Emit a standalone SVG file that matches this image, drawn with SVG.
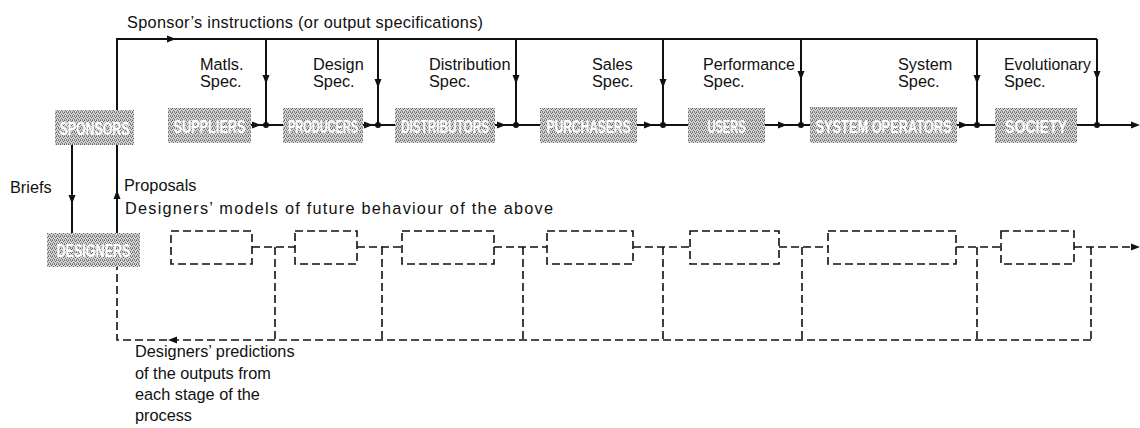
<svg xmlns="http://www.w3.org/2000/svg" xmlns:xlink="http://www.w3.org/1999/xlink" width="1140" height="428" viewBox="0 0 1140 428">
<style>
  .lbl { font-family: "Liberation Sans", Arial, sans-serif; font-size: 16.3px; fill: #111; }
  .box { fill: url(#stip); }
  .bt { font-family: "Liberation Sans", Arial, sans-serif; font-size: 19px; font-weight: bold; fill: #fff; text-anchor: middle; }
  .ln { fill: none; stroke: #111; stroke-width: 2; }
  .dl { fill: none; stroke: #111; stroke-width: 1.6; stroke-dasharray: 8 4; }
  .db { fill: none; stroke: #111; stroke-width: 1.6; stroke-dasharray: 8 4; }
  .dot { fill: #111; }
</style>
<defs>
  <pattern id="stip" width="4" height="4" patternUnits="userSpaceOnUse">
    <rect width="4" height="4" fill="#d4d4d4"/>
    <rect x="0" y="0" width="1" height="1" fill="#5e5e5e"/>
    <rect x="2" y="0" width="1" height="1" fill="#8a8a8a"/>
    <rect x="3" y="1" width="1" height="1" fill="#666"/>
    <rect x="1" y="2" width="1" height="1" fill="#6e6e6e"/>
    <rect x="2" y="3" width="1" height="1" fill="#7a7a7a"/>
    <rect x="0" y="3" width="1" height="1" fill="#9a9a9a"/>
  </pattern>
  <path id="ah" d="M0,0 L-9,-3.5 L-9,3.5 Z" fill="#111"/>
</defs>

<!-- connectors -->
<g id="connectors">
  <!-- sponsor instructions bus -->
  <path class="ln" d="M117,112 V39 H1097"/>
  <path class="ln" d="M266,39 V125"/>
  <path class="ln" d="M378,39 V125"/>
  <path class="ln" d="M516,39 V125"/>
  <path class="ln" d="M663,39 V125"/>
  <path class="ln" d="M801,39 V125"/>
  <path class="ln" d="M977,39 V125"/>
  <path class="ln" d="M1097,39 V125"/>
  <use xlink:href="#ah" transform="translate(176,39)"/>
  <use xlink:href="#ah" transform="translate(266,84) rotate(90)"/>
  <use xlink:href="#ah" transform="translate(378,88) rotate(90)"/>
  <use xlink:href="#ah" transform="translate(516,84) rotate(90)"/>
  <use xlink:href="#ah" transform="translate(663,88) rotate(90)"/>
  <use xlink:href="#ah" transform="translate(801,80) rotate(90)"/>
  <use xlink:href="#ah" transform="translate(977,84) rotate(90)"/>
  <use xlink:href="#ah" transform="translate(1097,80) rotate(90)"/>

  <!-- main flow -->
  <path class="ln" d="M251,125 H283"/>
  <path class="ln" d="M363,125 H395"/>
  <path class="ln" d="M495,125 H540"/>
  <path class="ln" d="M637,125 H688"/>
  <path class="ln" d="M765,125 H810"/>
  <path class="ln" d="M957,125 H995"/>
  <path class="ln" d="M1077,125 H1132"/>
  <use xlink:href="#ah" transform="translate(261,125)"/>
  <use xlink:href="#ah" transform="translate(373,125)"/>
  <use xlink:href="#ah" transform="translate(506,125)"/>
  <use xlink:href="#ah" transform="translate(653,125)"/>
  <use xlink:href="#ah" transform="translate(787,125)"/>
  <use xlink:href="#ah" transform="translate(968,125)"/>
  <use xlink:href="#ah" transform="translate(1140,125)"/>
  <circle class="dot" cx="266" cy="125" r="3"/>
  <circle class="dot" cx="378" cy="125" r="3"/>
  <circle class="dot" cx="516" cy="125" r="3"/>
  <circle class="dot" cx="663" cy="125" r="3"/>
  <circle class="dot" cx="801" cy="125" r="3"/>
  <circle class="dot" cx="977" cy="125" r="3"/>
  <circle class="dot" cx="1097" cy="125" r="3"/>

  <!-- briefs / proposals -->
  <path class="ln" d="M72,145 V233"/>
  <path class="ln" d="M117,145 V233"/>
  <use xlink:href="#ah" transform="translate(72,204) rotate(90)"/>
  <use xlink:href="#ah" transform="translate(117,190) rotate(-90)"/>

  <!-- models chain -->
  <path class="dl" d="M252,247 H295"/>
  <path class="dl" d="M357,247 H402"/>
  <path class="dl" d="M494,247 H547"/>
  <path class="dl" d="M633,247 H690"/>
  <path class="dl" d="M779,247 H828"/>
  <path class="dl" d="M956,247 H1001"/>
  <path class="dl" d="M1074,247 H1132"/>
  <use xlink:href="#ah" transform="translate(1140,247)"/>

  <!-- predictions feedback -->
  <path class="dl" d="M275,247 V340"/>
  <path class="dl" d="M382,247 V340"/>
  <path class="dl" d="M523,247 V340"/>
  <path class="dl" d="M663,247 V340"/>
  <path class="dl" d="M802,247 V340"/>
  <path class="dl" d="M977,247 V340"/>
  <path class="dl" d="M1091,247 V340"/>
  <path class="dl" d="M1091,340 H117 V267"/>
  <use xlink:href="#ah" transform="translate(168,340) rotate(180)"/>
</g>

<!-- nodes -->
<g id="sponsors"><rect class="box" x="55" y="110" width="79" height="35"/><text class="bt" x="94.5" y="135" textLength="70" lengthAdjust="spacingAndGlyphs">SPONSORS</text></g>
<g id="suppliers"><rect class="box" x="168" y="108" width="83" height="35"/><text class="bt" x="209.5" y="133" textLength="72" lengthAdjust="spacingAndGlyphs">SUPPLIERS</text></g>
<g id="producers"><rect class="box" x="283" y="108" width="80" height="35"/><text class="bt" x="323" y="133" textLength="70" lengthAdjust="spacingAndGlyphs">PRODUCERS</text></g>
<g id="distributors"><rect class="box" x="395" y="108" width="100" height="35"/><text class="bt" x="445" y="133" textLength="88" lengthAdjust="spacingAndGlyphs">DISTRIBUTORS</text></g>
<g id="purchasers"><rect class="box" x="540" y="108" width="97" height="35"/><text class="bt" x="588.5" y="133" textLength="84" lengthAdjust="spacingAndGlyphs">PURCHASERS</text></g>
<g id="users"><rect class="box" x="688" y="108" width="77" height="35"/><text class="bt" x="726.5" y="133" textLength="38" lengthAdjust="spacingAndGlyphs">USERS</text></g>
<g id="system-operators"><rect class="box" x="810" y="107" width="147" height="36"/><text class="bt" x="883.5" y="133" textLength="136" lengthAdjust="spacingAndGlyphs">SYSTEM OPERATORS</text></g>
<g id="society"><rect class="box" x="995" y="108" width="82" height="35"/><text class="bt" x="1036" y="133" textLength="62" lengthAdjust="spacingAndGlyphs">SOCIETY</text></g>
<g id="designers"><rect class="box" x="47" y="233" width="93" height="34"/><text class="bt" x="93.5" y="257" textLength="74" lengthAdjust="spacingAndGlyphs">DESIGNERS</text></g>

<!-- model boxes -->
<g id="model-1"><rect class="db" x="171" y="231" width="81" height="33"/></g>
<g id="model-2"><rect class="db" x="295" y="231" width="62" height="33"/></g>
<g id="model-3"><rect class="db" x="402" y="231" width="92" height="33"/></g>
<g id="model-4"><rect class="db" x="547" y="231" width="86" height="33"/></g>
<g id="model-5"><rect class="db" x="690" y="231" width="89" height="33"/></g>
<g id="model-6"><rect class="db" x="828" y="231" width="128" height="33"/></g>
<g id="model-7"><rect class="db" x="1001" y="231" width="73" height="33"/></g>

<!-- labels -->
<g id="labels">
  <text class="lbl" x="127" y="28" textLength="356" lengthAdjust="spacing">Sponsor’s instructions (or output specifications)</text>
  <text class="lbl" x="200" y="70">Matls.</text><text class="lbl" x="200" y="87">Spec.</text>
  <text class="lbl" x="313" y="70">Design</text><text class="lbl" x="313" y="87">Spec.</text>
  <text class="lbl" x="429" y="70">Distribution</text><text class="lbl" x="429" y="87">Spec.</text>
  <text class="lbl" x="592" y="70">Sales</text><text class="lbl" x="592" y="87">Spec.</text>
  <text class="lbl" x="703" y="70" textLength="92" lengthAdjust="spacingAndGlyphs">Performance</text><text class="lbl" x="703" y="87">Spec.</text>
  <text class="lbl" x="898" y="70">System</text><text class="lbl" x="898" y="87">Spec.</text>
  <text class="lbl" x="1004" y="70" textLength="87" lengthAdjust="spacingAndGlyphs">Evolutionary</text><text class="lbl" x="1004" y="87">Spec.</text>
  <text class="lbl" x="10" y="193">Briefs</text>
  <text class="lbl" x="124" y="191">Proposals</text>
  <text class="lbl" x="125" y="214" textLength="428" lengthAdjust="spacing">Designers’ models of future behaviour of the above</text>
  <text class="lbl" x="135" y="357">Designers’ predictions</text>
  <text class="lbl" x="135" y="379">of the outputs from</text>
  <text class="lbl" x="135" y="400">each stage of the</text>
  <text class="lbl" x="135" y="421">process</text>
</g>
</svg>
